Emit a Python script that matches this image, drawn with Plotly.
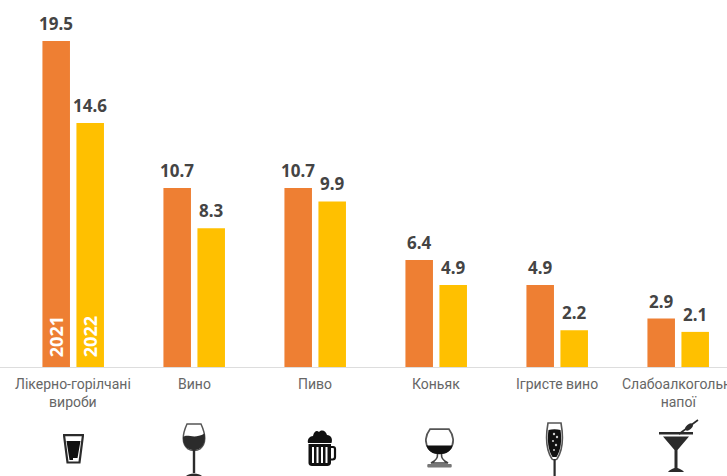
import base64
import plotly.graph_objects as go

categories = ["Лікерно-горілчані<br>вироби", "Вино", "Пиво", "Коньяк", "Ігристе вино", "Слабоалкогольні<br>напої"]
values_2021 = [19.5, 10.7, 10.7, 6.4, 4.9, 2.9]
values_2022 = [14.6, 8.3, 9.9, 4.9, 2.2, 2.1]
years = ["2021", "2022"]
colors = ["#EE7F33", "#FFC000"]

WIDTH, HEIGHT = 727, 476
BASE_Y = 367
UNIT_PX = 16.72
FIRST_CENTER = 73.2
GROUP_PITCH = 121
BAR_OFFSET = 17
INK = "#2b2b2b"


def svg_source(body, w, h):
    svg = f'<svg xmlns="http://www.w3.org/2000/svg" width="{w}" height="{h}" viewBox="0 0 {w} {h}">{body}</svg>'
    return "data:image/svg+xml;base64," + base64.b64encode(svg.encode()).decode()


# Drink pictograms, one per category, each in its own small viewBox
shot = (f'<path d="M1 1.2H20L16.5 28.5H4.5Z" fill="none" stroke="{INK}" stroke-width="2.2"/>'
        f'<path d="M3.5 7H17.5L14.5 24H10V26H6.5Z" fill="#111"/>')
wine = (f'<path d="M6 1H20C25 12 25 21 19 26C16 28 10 28 7 26C1 21 1 12 6 1Z" fill="none" stroke="#555" stroke-width="1.5"/>'
        f'<path d="M2 14C7 10 12 17 23.6 10.5C25 18 22 24 18 26C15 27.5 11 27.5 8 26C4 24 2 20 2 14Z" fill="{INK}"/>'
        f'<rect x="11.8" y="27" width="2.4" height="23" fill="{INK}"/><path d="M5 53C8 49.5 18 49.5 21 53Z" fill="{INK}"/>')
beer = (f'<path d="M1 14C0 10 3 7 6 7C7 2 10 1 12 3C15 0 19 2 20 6C24 6 26 10 24.5 14Z" fill="#111"/>'
        f'<path d="M1.5 15H24V34C24 36 22 37 20.5 37H5C3 37 1.5 36 1.5 34Z" fill="#111"/>'
        f'<path d="M6 18V34M10.5 18V34M15 18V34M19.5 18V34" stroke="#fff" stroke-width="2"/>'
        f'<path d="M24 18H26C27.5 18 28 19 28 20V28C28 30 27 30.5 25.5 30.5H24" fill="none" stroke="#111" stroke-width="2.2"/>')
cognac = (f'<path d="M5 1.2H24C28.5 7 30 15 25 21C21 26 8 26 4 21C-1 15 .5 7 5 1.2Z" fill="none" stroke="#555" stroke-width="1.8"/>'
          f'<path d="M1.5 17.5H27.5C27 20 25.5 22 23 24C19 27 10 27 6 24C3.5 22 2 20 1.5 17.5Z" fill="#111"/>'
          f'<path d="M12.5 26C13 31 10 33 6 35H23C19 33 16 31 16.5 26" fill="none" stroke="#444" stroke-width="1.6"/>'
          f'<path d="M3 36H26C27 36 27 39.5 26 39.5H3C2 39.5 2 36 3 36Z" fill="#777"/>')
flute = (f'<path d="M3 1H16C18.5 15 18 28 12 37C11 38 8 38 7 37C1 28 .5 15 3 1Z" fill="none" stroke="#555" stroke-width="1.6"/>'
         f'<path d="M3.5 8C7 7 12 7 15.5 8C17 18 16 28 11.5 35H7.5C3 28 2 18 3.5 8Z" fill="#111"/>'
         f'<g fill="#ccc"><circle cx="9" cy="12" r="1.2"/><circle cx="12" cy="15" r="1.2"/><circle cx="8" cy="19" r="1.1"/><circle cx="11" cy="23" r="1.2"/><circle cx="9" cy="28" r="1"/></g>'
         f'<rect x="8.5" y="37" width="2.2" height="17" fill="{INK}"/>')
martini = (f'<path d="M0 13H34V15.5H0Z" fill="{INK}"/>'
           f'<path d="M4 17.5H30L18.5 31V49C21 50 24 51 25 53H9C10 51 13 50 15.5 49V31Z" fill="{INK}"/>'
           f'<path d="M20 15L39 1" stroke="{INK}" stroke-width="1.6"/>'
           f'<ellipse cx="30" cy="8" rx="4.5" ry="2.6" transform="rotate(-40 30 8)" fill="{INK}"/>')

# (svg body, viewBox w, viewBox h, left px, top px)
icons = [
    (shot, 21, 30, 63, 434),
    (wine, 26, 54, 181, 423),
    (beer, 30, 38, 307, 429),
    (cognac, 30, 40, 425, 428),
    (flute, 19, 54, 545, 422),
    (martini, 40, 53, 659, 419),
]

fig = go.Figure()
for name, vals, color in zip(years, [values_2021, values_2022], colors):
    fig.add_trace(go.Bar(
        x=list(range(len(categories))), y=vals, name=name, marker=dict(color=color, line_width=0),
    ))

# Value captions sit a few pixels clear of each bar top
for side, vals in zip((-1, 1), (values_2021, values_2022)):
    for i, v in enumerate(vals):
        fig.add_annotation(
            x=i, y=v, xref="x", yref="y", text=f"<b>{v:.1f}</b>", showarrow=False, yanchor="bottom",
            xshift=side * BAR_OFFSET, yshift=4, font=dict(family="Noto Sans", size=17, color="#444444"),
        )

# Year captions run up the first pair of bars
for i, name in enumerate(years):
    fig.add_annotation(
        x=0, y=0, xref="x", yref="y", text=f"<b>{name}</b>", textangle=-90, showarrow=False,
        xshift=-BAR_OFFSET + 2 * BAR_OFFSET * i, yshift=30, font=dict(family="Open Sans", size=18, color="#ffffff"),
    )

# Category captions; the last one runs past the right edge of the page, so they are annotations
for i, label in enumerate(categories):
    fig.add_annotation(
        x=i, y=0, xref="x", yref="y", text=label, showarrow=False, yanchor="top", align="center",
        yshift=-7, font=dict(family="Roboto", size=14, color="#666666"),
    )

for body, w, h, left, top in icons:
    fig.add_layout_image(
        source=svg_source(body, w, h), xref="paper", yref="paper", layer="above",
        x=left / WIDTH, y=1 - top / HEIGHT, sizex=w / WIDTH, sizey=h / HEIGHT,
        xanchor="left", yanchor="top", sizing="stretch",
    )

fig.update_layout(
    width=WIDTH, height=HEIGHT, margin=dict(l=0, r=0, t=0, b=0),
    paper_bgcolor="#ffffff", plot_bgcolor="#ffffff", showlegend=False,
    barmode="group", bargap=0.438, bargroupgap=0.19,
    xaxis=dict(
        range=[-FIRST_CENTER / GROUP_PITCH, (WIDTH - FIRST_CENTER) / GROUP_PITCH],
        showticklabels=False, ticks="",
        showgrid=False, showline=True, linecolor="#dddddd", linewidth=1, zeroline=False,
    ),
    yaxis=dict(
        domain=[1 - BASE_Y / HEIGHT, 1], range=[0, BASE_Y / UNIT_PX],
        visible=False, showgrid=False, zeroline=False,
    ),
)

fig.write_html("out.html")
